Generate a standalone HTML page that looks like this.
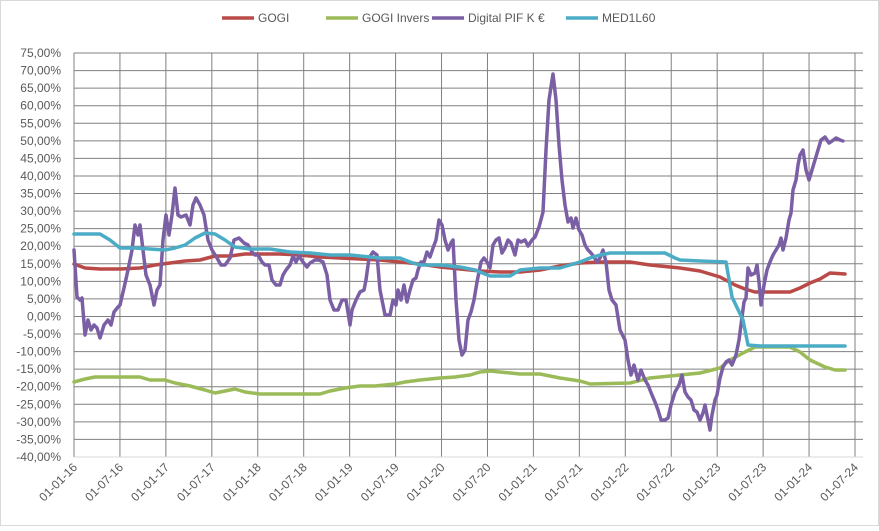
<!DOCTYPE html>
<html><head><meta charset="utf-8"><style>
body{margin:0;background:#fff}
svg text{font-family:"Liberation Sans",sans-serif;font-size:12px;fill:#595959}
</style></head><body>
<svg width="879" height="526" xmlns="http://www.w3.org/2000/svg">
<rect x="0.5" y="0.5" width="878" height="525" fill="#fff" stroke="#d9d9d9"/>
<g id="grid" stroke="#808080" stroke-width="1"></g>
<g id="ylab"></g><g id="xlab"></g>
<line x1="74" y1="457" x2="863" y2="457" stroke="#d9d9d9"/>
<g fill="none" stroke-width="3.5" stroke-linejoin="round" stroke-linecap="round">
<polyline stroke="#b94a48" points="74,264 85,268 100,269 120,269 140,268 155,265 170,263 185,261 200,260 215,256 230,256 245,254 260,254 280,254 300,255 320,257 340,258 360,259 380,260 400,262 420,264 440,267 460,269 480,271 500,272 520,272 540,270 560,266 580,263 600,262 630,262 650,265 680,268 700,271 720,277 735,285 745,289 755,292 790,292 800,288 810,283 820,279 830,273 845,274"/>
<polyline stroke="#9bbb59" points="74,382 85,379 95,377 120,377 140,377 150,380 165,380 175,383 190,386 205,390 215,393 225,391 235,389 245,392 260,394 290,394 320,394 330,391 345,388 360,386 375,386 395,384 405,382 420,380 440,378 455,377 470,375 480,372 490,371 500,372 520,374 540,374 560,378 580,381 590,384 630,383 650,378 680,375 700,373 720,368 730,360 745,352 755,347 790,347 800,352 810,360 825,367 835,370 845,370"/>
<polyline stroke="#7b5fa5" points="74,250 77,297 80,300 82,298 85,335 88,320 91,330 94,325 97,328 100,338 104,325 108,320 111,325 114,312 118,307 120,305 124,288 128,270 132,250 135,225 138,235 140,225 143,250 146,275 150,285 154,305 157,290 160,285 163,240 166,215 169,235 172,215 175,188 178,215 181,217 186,215 190,225 193,205 196,198 200,205 204,215 208,240 212,250 217,258 221,265 225,265 230,258 234,240 239,238 244,243 248,245 252,252 255,255 258,255 262,262 265,265 269,265 272,280 276,285 280,285 283,275 286,270 290,265 293,256 296,262 299,256 303,262 307,267 310,263 315,260 319,260 323,262 327,275 330,300 334,310 338,310 342,300 346,300 350,325 352,310 356,300 360,292 364,290 366,280 369,258 373,252 377,255 380,290 385,315 390,315 393,300 396,305 398,290 401,300 404,285 407,302 410,290 413,280 416,278 418,270 421,262 424,262 427,252 430,257 433,248 436,240 439,220 442,225 445,240 448,250 451,243 453,240 456,300 459,340 462,355 465,350 468,320 471,312 474,300 477,282 481,262 484,258 487,262 490,268 493,245 496,240 499,238 502,253 505,248 508,240 511,243 515,255 518,240 521,242 525,240 528,246 532,240 535,237 539,227 543,212 546,150 549,100 553,74 556,100 559,145 562,180 565,205 568,222 571,218 573,228 576,218 579,230 582,235 585,245 588,250 591,253 594,257 597,262 600,258 603,250 606,262 609,290 612,300 616,305 620,330 625,340 628,360 631,375 634,365 638,380 641,370 645,380 648,385 652,395 655,402 658,410 661,420 665,420 668,418 671,405 675,392 679,385 682,375 685,392 688,397 691,400 694,410 697,412 700,420 703,413 705,405 708,420 710,430 712,415 715,400 717,395 720,378 723,367 726,362 729,360 732,365 736,355 739,340 741,325 744,302 746,298 748,268 751,275 755,273 757,265 759,282 761,305 764,285 767,270 770,262 773,255 776,250 779,245 781,238 783,250 786,238 789,220 791,213 793,190 796,180 798,165 800,155 803,150 806,170 809,180 812,170 815,160 818,150 821,140 825,137 829,143 832,141 836,138 840,140 843,141"/>
<polyline stroke="#4bacc6" points="74,234 100,234 110,240 120,248 135,248 150,249 165,250 175,248 185,245 195,238 205,233 215,234 225,240 235,247 250,249 270,249 290,252 310,253 330,255 350,255 370,257 380,258 400,258 410,262 420,265 440,265 460,267 475,270 490,276 510,276 520,270 540,268 560,268 580,262 590,258 600,255 610,253 665,253 675,258 680,260 700,261 726,262 732,297 743,320 748,345 760,346 800,346 845,346"/>
</g>
<g stroke-width="3.5">
<line x1="222" y1="18" x2="254" y2="18" stroke="#b94a48"/>
<line x1="326" y1="18" x2="358" y2="18" stroke="#9bbb59"/>
<line x1="432" y1="18" x2="464" y2="18" stroke="#7b5fa5"/>
<line x1="566" y1="18" x2="598" y2="18" stroke="#4bacc6"/>
</g>
<text x="258" y="22">GOGI</text>
<text x="362" y="22">GOGI Invers</text>
<text x="468" y="22">Digital PIF K €</text>
<text x="602" y="22">MED1L60</text>
</svg>
<script>
const ns="http://www.w3.org/2000/svg";
const g=document.getElementById('grid'),yl=document.getElementById('ylab'),xl=document.getElementById('xlab');
for(let i=0;i<=23;i++){const v=75-5*i;const y=53+i*(404/23);
 if(i<23){const l=document.createElementNS(ns,'line');l.setAttribute('x1',74);l.setAttribute('x2',863);l.setAttribute('y1',y);l.setAttribute('y2',y);g.appendChild(l);}
 const t=document.createElementNS(ns,'text');t.setAttribute('x',61);t.setAttribute('y',y+4);t.setAttribute('text-anchor','end');
 t.textContent=v.toFixed(2).replace('.',',')+'%';yl.appendChild(t);}
for(let i=0;i<=17;i++){const x=74+i*(781/17);
 const l=document.createElementNS(ns,'line');l.setAttribute('x1',x);l.setAttribute('x2',x);l.setAttribute('y1',53);l.setAttribute('y2',457);g.appendChild(l);
 const yr=16+Math.floor(i/2);const lab=(i%2?'01-07-':'01-01-')+yr;
 const t=document.createElementNS(ns,'text');t.setAttribute('text-anchor','end');
 t.setAttribute('transform','translate('+(x+4)+',468) rotate(-45)');t.textContent=lab;xl.appendChild(t);}
</script>
</body></html>
